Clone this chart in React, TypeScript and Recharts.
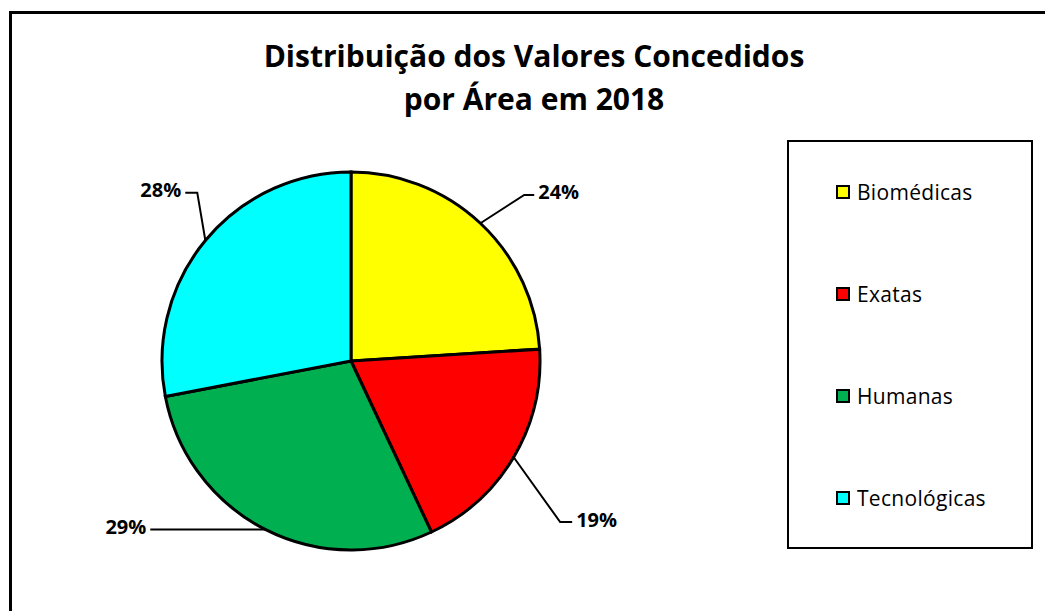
import React from 'react';
import { PieChart, Pie, Cell, Legend } from 'recharts';

const categories = ['Biomédicas', 'Exatas', 'Humanas', 'Tecnológicas'];
const values = [24, 19, 29, 28];
const colors = ['#FFFF00', '#FF0000', '#00B050', '#00FFFF'];
const titleLines = ['Distribuição dos Valores Concedidos', 'por Área em 2018'];

// leader-line layout (clockwise angle nudge in degrees, extra radius, horizontal tail length)
const labelNudge = [
  { dAngle: 3, dRadius: 51, tail: 10 },
  { dAngle: 7, dRadius: 75, tail: 12 },
  { dAngle: 23, dRadius: 73, tail: 0 },
  { dAngle: 8, dRadius: 39, tail: 12 },
];

const data = categories.map((name, i) => ({ name, value: values[i] }));

const FONT = '"Open Sans", "Noto Sans", sans-serif';
const RAD = Math.PI / 180;

const renderLabel = (props: any) => {
  const { cx, cy, midAngle, outerRadius, percent, index } = props;
  const nudge = labelNudge[index] || { dAngle: 0, dRadius: 40, tail: 12 };
  const cos = Math.cos(-midAngle * RAD);
  const sin = Math.sin(-midAngle * RAD);
  const sx = cx + outerRadius * cos;
  const sy = cy + outerRadius * sin;
  const a2 = midAngle - nudge.dAngle;
  const r2 = outerRadius + nudge.dRadius;
  const mx = cx + r2 * Math.cos(-a2 * RAD);
  const my = cy + r2 * Math.sin(-a2 * RAD);
  const right = cos >= 0;
  const ex = mx + (right ? nudge.tail : -nudge.tail);
  const tx = ex + (right ? 4 : -4);
  return (
    <g>
      <polyline points={`${sx},${sy} ${mx},${my} ${ex},${my}`} fill="none" stroke="#000" strokeWidth={2} />
      <text x={tx} y={my - 3} textAnchor={right ? 'start' : 'end'} dominantBaseline="central"
        fontFamily={FONT} fontWeight={700} fontSize={20} fill="#000">
        {`${Math.round(percent * 100)}%`}
      </text>
    </g>
  );
};

const renderLegend = (props: any) => {
  const { payload } = props;
  return (
    <div style={{ width: 246, height: 409, boxSizing: 'border-box', border: '2.5px solid #000', background: '#fff', position: 'relative' }}>
      {payload.map((entry: any, i: number) => (
        <div key={i} style={{ position: 'absolute', left: 47, top: 37 + i * 102, display: 'flex', alignItems: 'center', height: 26 }}>
          <div style={{ width: 10, height: 10, border: '2px solid #000', background: entry.color, marginRight: 7 }} />
          <span style={{ fontFamily: FONT, fontSize: 21, color: '#000', letterSpacing: 0.3 }}>{entry.value}</span>
        </div>
      ))}
    </div>
  );
};

export default function App() {
  return (
    <div style={{ position: 'absolute', left: 0, top: 0, width: 1045, height: 611, overflow: 'hidden', background: '#fff' }}>
      <div style={{ position: 'absolute', left: 9, top: 11, width: 1200, height: 800, border: '3px solid #000', boxSizing: 'border-box' }} />
      <div style={{ position: 'absolute', left: 0, top: 34, width: 1068, textAlign: 'center', fontFamily: FONT, fontWeight: 700, fontSize: 30, lineHeight: '43px', color: '#000' }}>
        {titleLines.map((t, i) => <div key={i}>{t}</div>)}
      </div>
      <div style={{ position: 'absolute', left: 0, top: 0 }}>
        <PieChart width={1045} height={611} margin={{ top: 0, right: 0, bottom: 0, left: 0 }}>
          <Pie data={data} dataKey="value" nameKey="name" cx={351} cy={361} outerRadius={189}
            startAngle={90} endAngle={-270} stroke="#000" strokeWidth={3}
            label={renderLabel} labelLine={false} isAnimationActive={false}>
            {data.map((d, i) => <Cell key={d.name} fill={colors[i]} />)}
          </Pie>
          <Legend content={renderLegend} wrapperStyle={{ position: 'absolute', left: 787, top: 140, width: 246, height: 409 }} />
        </PieChart>
      </div>
    </div>
  );
}
